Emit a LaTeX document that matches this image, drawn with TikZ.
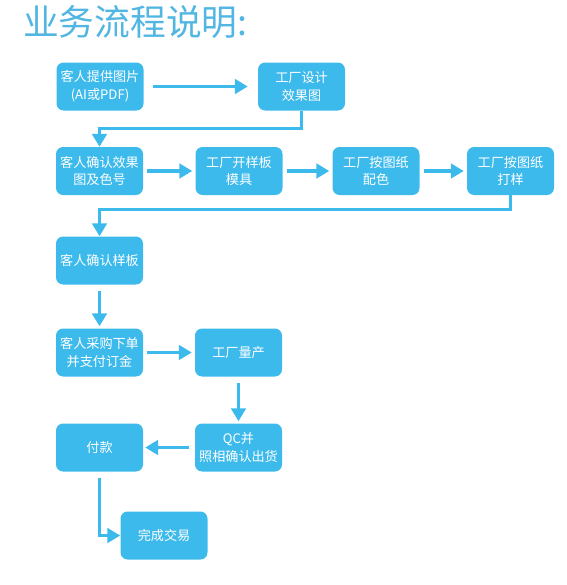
\documentclass[tikz,border=0pt]{standalone}
\usepackage{fontspec}
\setmainfont{Noto Sans CJK SC}
\usepackage{tikz}
\usetikzlibrary{arrows.meta}
\definecolor{boxblue}{HTML}{3DBAEC}
\definecolor{titleblue}{HTML}{52B6E2}
% elbow connector: from #1 down to row #2, across and down into #3
\newcommand{\drawelbow}[3]{
  \draw[flow] (#1.south) -- ++(0,#2) -| (#3.north);
}

\begin{document}
\begin{tikzpicture}[x=0.03cm, y=-0.03cm,
    stepbox/.style={rectangle, rounded corners=6, fill=boxblue, text=white,
      minimum width=87*0.03cm, minimum height=48*0.03cm, align=center,
      inner sep=1pt, font=\fontsize{11.2}{15}\selectfont},
    flow/.style={draw=boxblue, line width=2.6pt,
      -{Triangle[length=0.39cm, width=0.44cm]}}
  ]
  \useasboundingbox (0,0) rectangle (567,585);

  % Title
  \node[anchor=west, text=titleblue, font=\fontsize{30.5}{34}\selectfont]
    (title) at (19,22) {业务流程说明:};

  % Row 1
  \node[stepbox] (provide) at (100,86.5) {客人提供图片\\(AI或PDF)};
  \node[stepbox] (design) at (301.5,86.5) {工厂设计\\效果图};

  % Row 2
  \node[stepbox] (confirm) at (99.5,171) {客人确认效果\\图及色号};
  \node[stepbox] (mould) at (239,171) {工厂开样板\\模具};
  \node[stepbox] (colour) at (376,171) {工厂按图纸\\配色};
  \node[stepbox] (sample) at (510.5,171) {工厂按图纸\\打样};

  % Column on the left
  \node[stepbox] (approve) at (99.5,260.5) {客人确认样板};
  \node[stepbox] (order) at (99.5,352.5) {客人采购下单\\并支付订金};
  \node[stepbox] (produce) at (238.5,352.5) {工厂量产};
  \node[stepbox] (qc) at (238.5,447.5) {QC并\\照相确认出货};
  \node[stepbox] (pay) at (99.5,447.5) {付款};
  \node[stepbox] (done) at (164,535.5) {完成交易};

  % Straight arrows
  \draw[flow, shorten <=9*0.03cm, shorten >=10*0.03cm] (provide) -- (design);
  \foreach \a/\b in {confirm/mould, mould/colour, colour/sample,
      order/produce} {
    \draw[flow, shorten <=4*0.03cm, shorten >=3*0.03cm] (\a) -- (\b);
  }
  \foreach \a/\b in {approve/order, produce/qc} {
    \draw[flow, shorten <=6*0.03cm, shorten >=2*0.03cm] (\a) -- (\b);
  }
  \draw[flow, shorten <=6*0.03cm, shorten >=2*0.03cm] (qc) -- (pay);

  % Elbow arrows back to the left column
  \drawelbow{design}{18}{confirm}
  \drawelbow{sample}{14}{approve}
  \draw[flow, shorten <=6*0.03cm] (pay.south) |- (done.west);
\end{tikzpicture}
\end{document}
